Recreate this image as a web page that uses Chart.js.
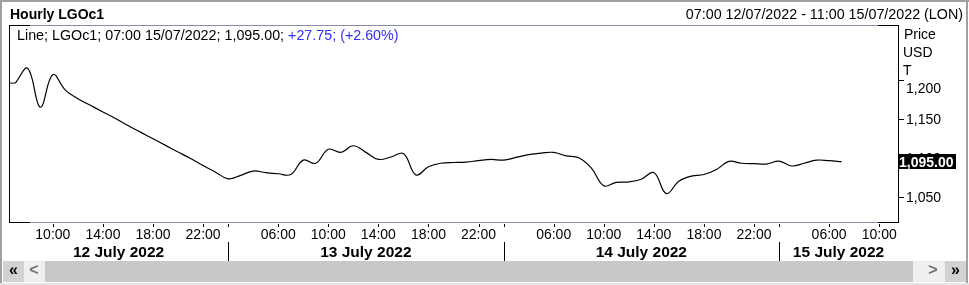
<!DOCTYPE html>
<html>
<head>
<meta charset="utf-8">
<script src="https://cdn.jsdelivr.net/npm/chart.js@4.4.0/dist/chart.umd.min.js"></script>
<style>
  html, body { margin: 0; padding: 0; background: #fff; }
  canvas { display: block; }
</style>
</head>
<body>
<canvas id="lgo" width="969" height="285"></canvas>
<script>
// Hourly LGOc1, 07:00 12/07/2022 - 11:00 15/07/2022 (London session hours only)

const hours = [
  // 12 July
  '07:00','08:00','09:00','10:00','11:00','12:00','13:00','14:00',
  '15:00','16:00','17:00','18:00','19:00','20:00','21:00','22:00',
  // 13 July
  '01:00','02:00','03:00','04:00','05:00','06:00','07:00','08:00','09:00','10:00','11:00',
  '12:00','13:00','14:00','15:00','16:00','17:00','18:00','19:00','20:00','21:00','22:00',
  // 14 July
  '01:00','02:00','03:00','04:00','05:00','06:00','07:00','08:00','09:00','10:00','11:00',
  '12:00','13:00','14:00','15:00','16:00','17:00','18:00','19:00','20:00','21:00','22:00',
  // 15 July
  '01:00','02:00','03:00','04:00','05:00','06:00','07:00','08:00','09:00','10:00','11:00'
];
const days = ['12 July 2022', '13 July 2022', '14 July 2022', '15 July 2022'];
const dayBreaks = [17, 39, 61];          // slot where the axis marks each new day
const hourTicks = ['06:00', '10:00', '14:00', '18:00', '22:00'];
const priceTicks = [1050, 1100, 1150, 1200];

const prices = [
  1196, 1215, 1165, 1207, 1187, 1176, 1167.5, 1159, 1150.5, 1141.5, 1133, 1124.5, 1116, 1107.5, 1099, 1090,
  1081.5, 1073, 1077.5, 1083, 1081, 1079.5, 1078.5, 1097, 1093, 1111, 1107, 1115.5, 1107, 1098, 1101,
  1105.5, 1078, 1088.5, 1093, 1094, 1094.5, 1096.5, 1098,
  1097, 1100.5, 1104, 1106, 1107, 1102.5, 1100, 1087, 1064, 1068.5, 1069, 1072.5, 1081, 1054,
  1070, 1076.5, 1078.5, 1085, 1095.5, 1093, 1092.5, 1092,
  1095.8, 1089.5, 1093, 1097, 1096.3, 1095
];
const lastPrice = 1095.00;
const netChange = 27.75;
const pctChange = 2.60;

const FONT = '"Liberation Sans", Arial, sans-serif';
const GREY_LINE = '#8c8ca0';

function fmt(v, dp) {
  const parts = v.toFixed(dp).split('.');
  const int = parts[0].replace(/\B(?=(\d{3})+(?!\d))/g, ',');
  return parts[1] ? int + '.' + parts[1] : int;
}

const chrome = {
  id: 'chrome',
  afterDraw(chart) {
    const { ctx, chartArea: a, scales: { x, y } } = chart;
    ctx.save();

    // window border
    ctx.fillStyle = '#a0a0a0';
    ctx.fillRect(0, 0, 969, 2);
    ctx.fillRect(0, 0, 2, 285);
    ctx.fillRect(966, 0, 2, 285);
    ctx.fillStyle = '#e4e4e4';
    ctx.fillRect(0, 283, 969, 2);

    // header
    ctx.fillStyle = '#000';
    ctx.textBaseline = 'alphabetic';
    ctx.textAlign = 'left';
    ctx.font = 'bold 14px ' + FONT;
    ctx.fillText('Hourly LGOc1', 10, 19);
    ctx.font = '14.3px ' + FONT;
    ctx.textAlign = 'right';
    ctx.fillText('07:00 12/07/2022 - 11:00 15/07/2022 (LON)', 963, 19);

    // plot frame: grey edges, black sides and corners
    ctx.lineWidth = 1;
    ctx.strokeStyle = GREY_LINE;
    ctx.beginPath();
    ctx.moveTo(a.left, a.top + 0.5); ctx.lineTo(a.right, a.top + 0.5);
    ctx.moveTo(a.left, a.bottom + 0.5); ctx.lineTo(a.right, a.bottom + 0.5);
    ctx.stroke();
    ctx.strokeStyle = '#000';
    ctx.beginPath();
    ctx.moveTo(a.left + 0.5, a.top); ctx.lineTo(a.left + 0.5, a.bottom + 1);
    ctx.moveTo(a.right + 0.5, a.top); ctx.lineTo(a.right + 0.5, a.bottom + 1);
    [a.top + 0.5, a.bottom + 0.5].forEach(yy => {
      ctx.moveTo(a.left, yy); ctx.lineTo(a.left + 21, yy);
      ctx.moveTo(a.right - 20, yy); ctx.lineTo(a.right + 1, yy);
    });
    ctx.stroke();

    // line runs flat into the left edge
    const y0 = y.getPixelForValue(prices[0]);
    ctx.beginPath();
    ctx.moveTo(a.left + 1, y0); ctx.lineTo(x.getPixelForValue(0), y0);
    ctx.stroke();

    // legend
    ctx.textAlign = 'left';
    ctx.font = '14.3px ' + FONT;
    const head = 'Line; LGOc1; 07:00 15/07/2022; ' + fmt(lastPrice, 2) + '; ';
    ctx.fillStyle = '#000';
    ctx.fillText(head, 17, 40);
    ctx.fillStyle = '#3030f0';
    ctx.fillText('+' + fmt(netChange, 2) + '; (+' + pctChange.toFixed(2) + '%)', 17 + ctx.measureText(head).width, 40);

    // price axis
    ctx.font = '14px ' + FONT;
    ctx.fillStyle = '#000';
    ctx.fillText('Price', 904, 38.5);
    ctx.fillText('USD', 903, 56.5);
    ctx.fillText('T', 903, 74.5);
    priceTicks.forEach(v => {
      const py = Math.round(y.getPixelForValue(v));
      ctx.fillRect(a.right, py, 6, 1);
      ctx.fillText(fmt(v, 0), 906, Math.max(py + 5, 92.5));
    });
    const lp = y.getPixelForValue(lastPrice);
    ctx.fillRect(a.right, Math.round(lp - 7.5), 58, 15);
    ctx.fillStyle = '#fff';
    ctx.font = 'bold 14px ' + FONT;
    ctx.fillText(fmt(lastPrice, 2), 899, Math.round(lp + 5));

    // time axis: hour row
    ctx.fillStyle = '#000';
    ctx.font = '14px ' + FONT;
    ctx.textAlign = 'center';
    hours.forEach((h, i) => {
      if (!hourTicks.includes(h)) return;
      const px = x.getPixelForValue(i);
      ctx.fillRect(Math.round(px), a.bottom + 2, 1, 3);
      ctx.fillText(h, px, 239);
    });

    // time axis: day row
    const edges = [a.left].concat(dayBreaks.map(i => x.getPixelForValue(i)), [a.right]);
    dayBreaks.forEach(i => {
      const px = Math.round(x.getPixelForValue(i));
      ctx.fillRect(px, a.bottom + 2, 1, 3);
      ctx.fillRect(px, 242, 1, 19);
    });
    ctx.font = 'bold 15.5px ' + FONT;
    days.forEach((d, k) => ctx.fillText(d, (edges[k] + edges[k + 1]) / 2, 257));

    // scroll bar
    ctx.fillStyle = '#c8c8c8';
    ctx.fillRect(45, 261, 868, 21);
    ctx.fillStyle = '#d2d2d2';
    ctx.fillRect(3, 261, 21, 21);
    ctx.fillRect(945, 261, 21, 21);
    ctx.fillStyle = '#efefef';
    ctx.fillRect(24, 261, 21, 21);
    ctx.fillRect(913, 261, 32, 21);
    ctx.textBaseline = 'middle';
    ctx.font = 'bold 16px ' + FONT;
    ctx.fillStyle = '#000';
    ctx.fillText('\u00ab', 13.5, 271);
    ctx.fillText('\u00bb', 955.5, 271);
    ctx.fillStyle = '#707070';
    ctx.fillText('<', 34, 271);
    ctx.fillText('>', 933, 271);

    ctx.restore();
  }
};

new Chart(document.getElementById('lgo'), {
  type: 'line',
  data: {
    labels: hours,
    datasets: [{
      data: prices,
      borderColor: '#000',
      borderWidth: 1.2,
      pointRadius: 0,
      tension: 0.4,
      fill: false
    }]
  },
  options: {
    responsive: false,
    animation: false,
    devicePixelRatio: 1,
    layout: { padding: { top: 25, left: 9, right: 71, bottom: 63 } },
    plugins: { legend: { display: false }, tooltip: { enabled: false } },
    scales: {
      x: { type: 'category', offset: true, display: false },
      y: { min: 1017.5, max: 1270.7, display: false }
    }
  },
  plugins: [chrome]
});
</script>
</body>
</html>
